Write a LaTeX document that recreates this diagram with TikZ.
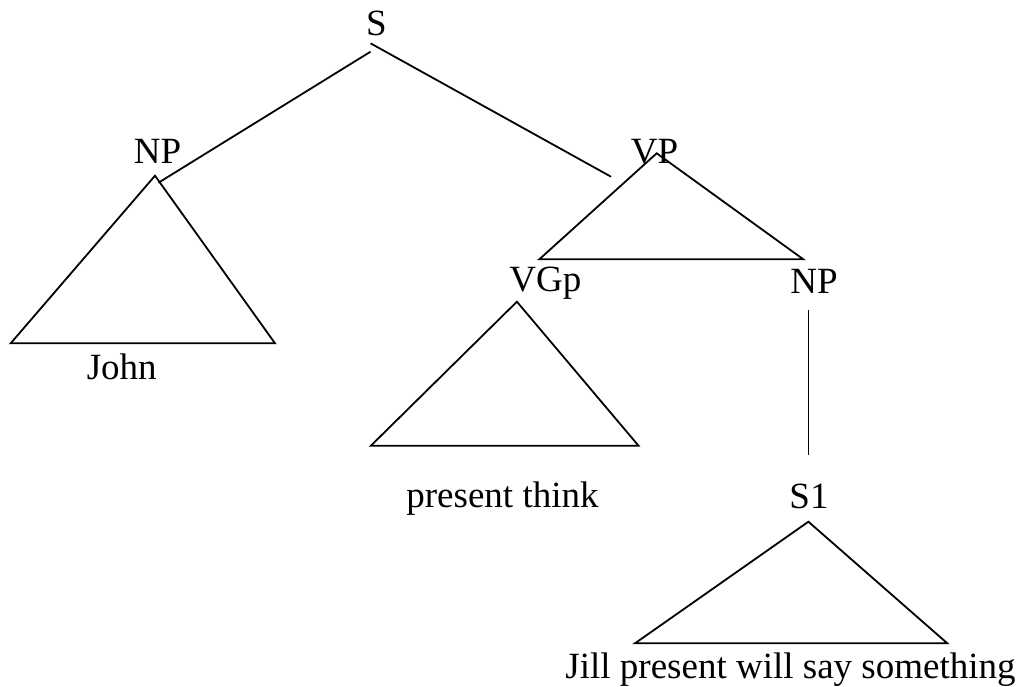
\documentclass[tikz,border=0pt]{standalone}
\usepackage{fontspec}
\setmainfont{Liberation Serif}
\begin{document}
\begin{tikzpicture}[x=1pt,y=-1pt,
  lbl/.style={inner sep=0pt,anchor=base,font=\fontsize{37}{40}\selectfont},
  edge/.style={line width=1.8pt,line join=miter}]
\useasboundingbox (0,0) rectangle (1025,686);
% labels
\node[lbl] (S) at (376.5,35) {S};
\node[lbl] (NPa) at (157.5,163) {NP};
\node[lbl] (VP) at (654.5,163.3) {VP};
\node[lbl] (John) at (121.7,379.3) {John};
\node[lbl] (VGp) at (545.3,291.7) {VGp};
\node[lbl] (NPb) at (814,293) {NP};
\node[lbl] (think) at (502.5,507) {present think};
\node[lbl] (S1) at (809,508) {S1};
\node[lbl] (Jill) at (790.5,678.3) {Jill present will say something};
% connector endpoints
\coordinate (sL) at (370.5,51.7);
\coordinate (sR) at (370.5,43.3);
\coordinate (npTop) at (158.5,182.7);
\coordinate (vpTop) at (611,176.7);
% NP triangle
\coordinate (t1a) at (155,175.7);
\coordinate (t1b) at (10.7,343.3);
\coordinate (t1c) at (275,343.3);
% VP triangle
\coordinate (t2a) at (656.7,153.3);
\coordinate (t2b) at (539.3,259.3);
\coordinate (t2c) at (803.3,259.3);
% VGp triangle
\coordinate (t3a) at (516.9,301.7);
\coordinate (t3b) at (370.9,445.7);
\coordinate (t3c) at (638.5,445.7);
% NP -> S1 line
\coordinate (vTop) at (808.4,310);
\coordinate (vBot) at (808.4,455);
% S1 triangle
\coordinate (t4a) at (808.4,521.7);
\coordinate (t4b) at (635,643.3);
\coordinate (t4c) at (947.3,643.3);
% drawing
\draw[edge] (sL) -- (npTop);
\draw[edge] (sR) -- (vpTop);
\draw[edge] (t1a) -- (t1b) -- (t1c) -- cycle;
\draw[edge] (t2a) -- (t2b) -- (t2c) -- cycle;
\draw[edge] (t3a) -- (t3b) -- (t3c) -- cycle;
\draw[edge] (vTop) -- (vBot);
\draw[edge] (t4a) -- (t4b) -- (t4c) -- cycle;
\end{tikzpicture}
\end{document}
